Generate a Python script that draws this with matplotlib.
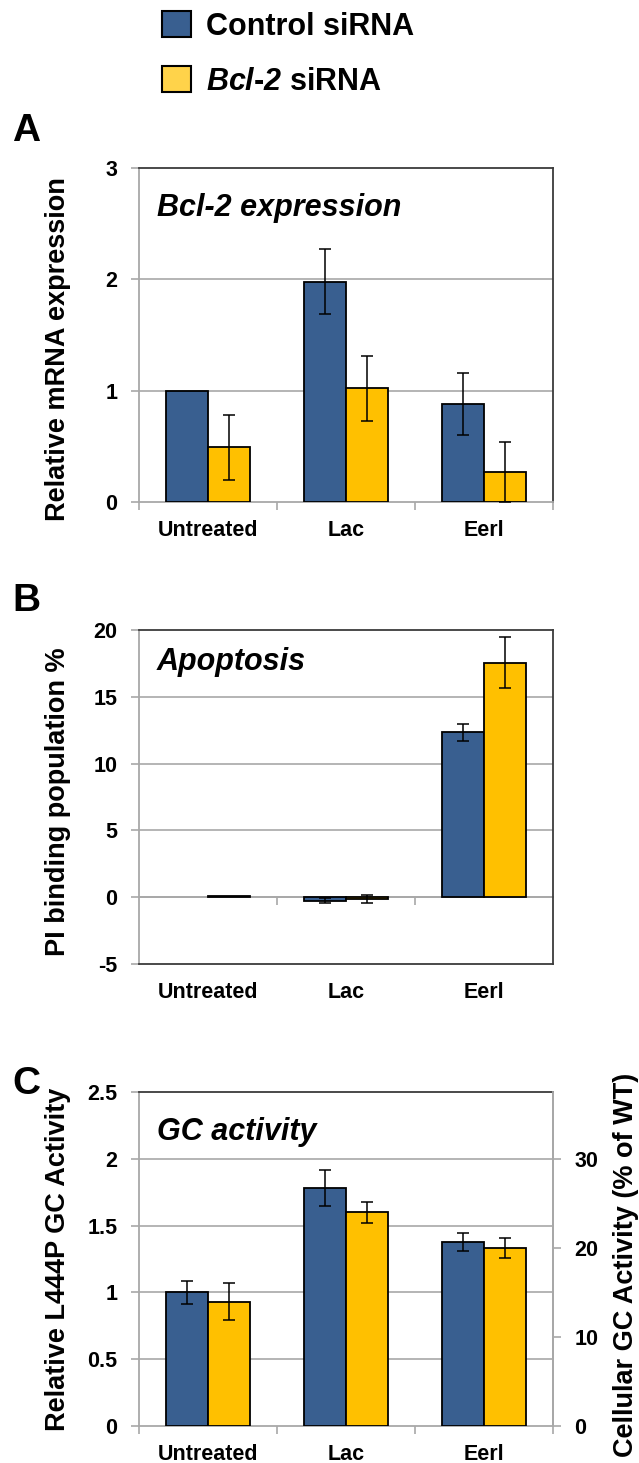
import numpy as np
import matplotlib
matplotlib.use("Agg")
import matplotlib.pyplot as plt
from matplotlib.patches import Patch

plt.rcParams['font.family'] = ['Liberation Sans', 'DejaVu Sans']
plt.rcParams['font.weight'] = 'bold'
plt.rcParams['mathtext.fontset'] = 'custom'
plt.rcParams['mathtext.bfit'] = 'Liberation Sans:italic:bold'

categories = ["Untreated", "Lac", "Eerl"]
series_names = ["Control siRNA", r"$\mathbfit{Bcl}$-$\mathbfit{2}$ siRNA"]

# panel A: Bcl-2 expression
bcl_ctrl = [1.00, 1.98, 0.88]
bcl_ctrl_err = [0.0, 0.29, 0.28]
bcl_si = [0.49, 1.02, 0.27]
bcl_si_err = [0.29, 0.29, 0.27]

# panel B: apoptosis
apo_ctrl = [0.0, -0.25, 12.35]
apo_ctrl_err = [0.0, 0.20, 0.65]
apo_si = [0.12, -0.14, 17.55]
apo_si_err = [0.0, 0.31, 1.90]

# panel C: GC activity
gc_ctrl = [1.00, 1.78, 1.375]
gc_ctrl_err = [0.087, 0.135, 0.067]
gc_si = [0.93, 1.60, 1.335]
gc_si_err = [0.14, 0.08, 0.075]

BLUE = "#395F90"
GOLD = "#FFC000"
GRID = "#A8A8A8"
DARK = "#3C3C3C"
TICK_FS = 15.5
LABEL_FS = 19.5

fig = plt.figure(figsize=(6.39, 14.63), dpi=100)
L, W, H = 139 / 639, 414 / 639, 334 / 1463
axA = fig.add_axes([L, 1 - 502 / 1463, W, H])
axB = fig.add_axes([L, 1 - 964 / 1463, W, H])
axC = fig.add_axes([L, 1 - 1426 / 1463, W, H])

centers = np.arange(len(categories)) + 0.5
bw = 0.304


def draw_bars(ax, ctrl, ctrl_err, si, si_err):
    xs = [centers - bw / 2, centers + bw / 2]
    for x, vals, err, col in zip(xs, [ctrl, si], [ctrl_err, si_err], [BLUE, GOLD]):
        vals = np.array(vals)
        # no outline for empty bars
        lws = np.where(vals == 0, 0, 1.3)
        ax.bar(x, vals, width=bw, color=col, edgecolor="black", linewidth=lws, zorder=3)
        err = np.array(err)
        keep = err > 0
        ax.errorbar(x[keep], vals[keep], yerr=err[keep], fmt="none",
                    ecolor="black", elinewidth=1.1, capsize=4, capthick=1.1, zorder=4)


def style(ax, ylim, yticks, ylabel, label_y, title, title_y, grid):
    ax.set_xlim(0, 3)
    ax.set_ylim(*ylim)
    ax.set_yticks(yticks)
    ax.set_yticklabels([f"{t:g}" for t in yticks])
    for g in grid:
        ax.axhline(g, color=GRID, lw=1.2, zorder=1)
    ax.tick_params(axis="y", direction="out", length=6, width=1.2, color=GRID,
                   pad=9.5, labelsize=TICK_FS)
    ax.spines["left"].set_color(GRID)
    ax.spines["left"].set_linewidth(1.3)
    for s in ["top", "right"]:
        ax.spines[s].set_color(DARK)
        ax.spines[s].set_linewidth(1.3)
    ax.set_ylabel(ylabel, fontsize=LABEL_FS, fontweight="bold")
    ax.yaxis.set_label_coords(-0.165, label_y)
    ax.text(0.043, title_y, title, transform=ax.transAxes, fontsize=22,
            fontweight="bold", fontstyle="italic", ha="left", va="baseline")


def cat_axis(ax, color):
    ax.set_xticks([0, 1, 2, 3])
    ax.set_xticklabels([])
    ax.set_xticks(centers, minor=True)
    ax.set_xticklabels(categories, minor=True, fontsize=TICK_FS)
    ax.tick_params(axis="x", which="major", direction="out", length=6, width=1.2, color=GRID)
    ax.tick_params(axis="x", which="minor", length=0, pad=13)
    ax.spines["bottom"].set_color(color)
    ax.spines["bottom"].set_linewidth(1.3)


# A
draw_bars(axA, bcl_ctrl, bcl_ctrl_err, bcl_si, bcl_si_err)
style(axA, (0, 3), [0, 1, 2, 3], "Relative mRNA expression", 0.458,
      "Bcl-2 expression", 0.856, [1, 2])
cat_axis(axA, GRID)

# B
draw_bars(axB, apo_ctrl, apo_ctrl_err, apo_si, apo_si_err)
style(axB, (-5, 20), [-5, 0, 5, 10, 15, 20], "PI binding population %", 0.485,
      "Apoptosis", 0.88, [0, 5, 10, 15])
axB.set_xticks(centers)
axB.set_xticklabels(categories, fontsize=TICK_FS)
axB.tick_params(axis="x", length=0, pad=13)
axB.spines["bottom"].set_color(DARK)
axB.spines["bottom"].set_linewidth(1.3)
zero_ax = axB.secondary_xaxis(0.2)
zero_ax.set_xticks([1, 2])
zero_ax.set_xticklabels([])
zero_ax.tick_params(direction="out", length=6, width=1.2, color=GRID)
zero_ax.spines["bottom"].set_color(GRID)
zero_ax.spines["bottom"].set_linewidth(1.3)

# C
draw_bars(axC, gc_ctrl, gc_ctrl_err, gc_si, gc_si_err)
style(axC, (0, 2.5), [0, 0.5, 1, 1.5, 2, 2.5], "Relative L444P GC Activity", 0.5,
      "GC activity", 0.856, [0.5, 1, 1.5, 2])
cat_axis(axC, GRID)
axC.spines["right"].set_color(GRID)
axC2 = axC.twinx()
axC2.set_ylim(0, 37.5)
axC2.set_yticks([0, 10, 20, 30])
axC2.tick_params(axis="y", direction="out", length=6, width=1.2, color=GRID,
                 pad=9.5, labelsize=TICK_FS)
for s in axC2.spines.values():
    s.set_visible(False)
axC2.spines["right"].set_visible(True)
axC2.spines["right"].set_color(GRID)
axC2.spines["right"].set_linewidth(1.3)
axC2.set_ylabel("Cellular GC Activity (% of WT)", fontsize=LABEL_FS,
                fontweight="bold", rotation=90)
axC2.yaxis.set_label_coords(1.145, 0.482)

# panel letters
for letter, ytop in zip(["A", "B", "C"], [113, 583, 1066]):
    fig.text(12 / 639, 1 - ytop / 1463, letter, fontsize=28, fontweight="bold",
             ha="left", va="top")

# legend
handles = [Patch(facecolor=BLUE, edgecolor="black", linewidth=1.5),
           Patch(facecolor="#FFD34A", edgecolor="black", linewidth=1.5)]
fig.legend(handles, series_names, loc="upper left", bbox_to_anchor=(162 / 639, 1 - 11 / 1463),
           frameon=False, fontsize=22, handlelength=0.95, handleheight=0.95,
           handletextpad=0.5, labelspacing=0.8, borderaxespad=0, borderpad=0)

fig.savefig("out.png", dpi=100)
